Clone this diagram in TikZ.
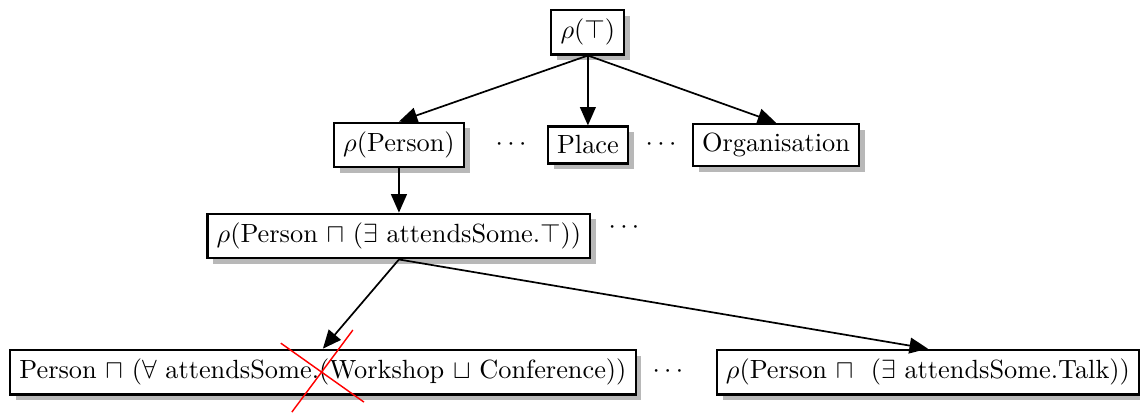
\documentclass[tikz,border=0pt]{standalone}
\usetikzlibrary{shadows,arrows.meta}
\begin{document}
\begin{tikzpicture}[x=1pt,y=1pt,
  box/.style={draw,thick,fill=white,inner sep=3.5pt,
    drop shadow={shadow xshift=2.2pt,shadow yshift=-2.2pt,fill=black!28,opacity=1}},
  edge/.style={line width=0.65pt,-{Triangle[length=7pt,width=6pt]}},
  cross/.style={red,line width=0.55pt}]
\useasboundingbox (0,0) rectangle (433.2,-156.9);
\node[box] (top) at (223.4,-12.2) {$\rho(\top)$};
\node[box] (person) at (151.6,-55.1) {$\rho$(Person)};
\node (dots1) at (194.2,-55.1) {$\cdots$};
\node[box] (place) at (223.4,-55.1) {Place};
\node (dots2) at (251.2,-55.1) {$\cdots$};
\node[box] (org) at (294.9,-55.1) {Organisation};
\node[box] (mid) at (151.6,-89.7) {$\rho$(Person $\sqcap$ ($\exists$ attendsSome.$\top$))};
\node (dots3) at (237.1,-86.6) {$\cdots$};
\node[box] (left) at (122.7,-141.4) {Person $\sqcap$ ($\forall$ attendsSome.(Workshop $\sqcup$ Conference))};
\node (dots4) at (253.8,-141.4) {$\cdots$};
\node[box] (right) at (352.6,-141.4) {$\rho$(Person $\sqcap$\ \ ($\exists$ attendsSome.Talk))};
\draw[edge] (top.south) -- (person.north);
\draw[edge] (top.south) -- (place.north);
\draw[edge] (top.south) -- (org.north);
\draw[edge] (person.south) -- (mid.north);
\draw[edge] (mid.south) -- (left.north);
\draw[edge] (mid.south) -- (right.north);
\draw[cross] ([shift={(-16,11)}]left.center) -- ([shift={(15.6,-11.4)}]left.center);
\draw[cross] ([shift={(11.4,16)}]left.center) -- ([shift={(-11.8,-15.2)}]left.center);
\end{tikzpicture}
\end{document}
